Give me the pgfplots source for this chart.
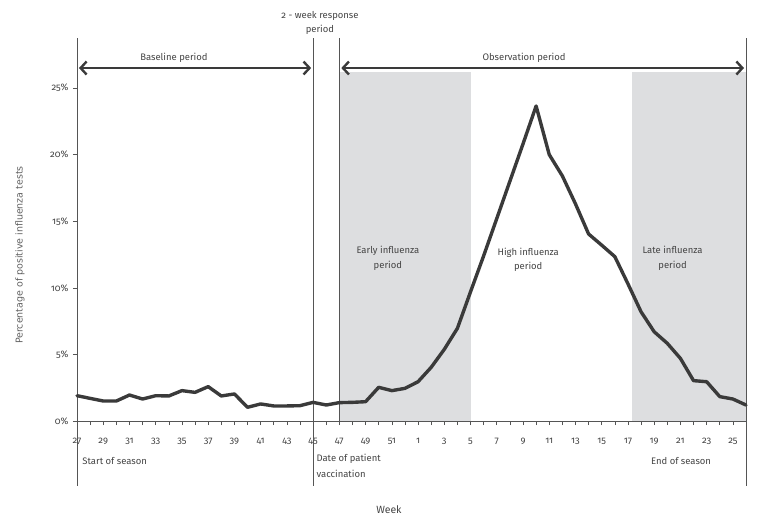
\documentclass[border=0pt]{standalone}
\usepackage{fontspec}
\setmainfont{Fira Sans}[Numbers=OldStyle]
\newfontfamily\ylabfont{DejaVu Sans}
\usepackage{pgfplots}
\pgfplotsset{compat=1.18}
\usetikzlibrary{arrows.meta}
\definecolor{shade}{RGB}{221,222,224}
\definecolor{txt}{RGB}{68,68,68}
\definecolor{vline}{RGB}{85,85,85}
\definecolor{dline}{RGB}{58,58,58}
\pgfplotstableread{
idx val
0 1.90
1 1.70
2 1.50
3 1.50
4 1.95
5 1.65
6 1.90
7 1.88
8 2.28
9 2.15
10 2.58
11 1.88
12 2.03
13 1.03
14 1.28
15 1.13
16 1.13
17 1.15
18 1.40
19 1.20
20 1.38
21 1.40
22 1.45
23 2.53
24 2.28
25 2.45
26 2.95
27 4.03
28 5.38
29 6.96
30 9.7
31 12.4
32 15.2
33 18.0
34 20.8
35 23.65
36 20.0
37 18.4
38 16.3
39 14.04
40 13.2
41 12.34
42 10.3
43 8.2
44 6.7
45 5.83
46 4.7
47 3.03
48 2.95
49 1.83
50 1.65
51 1.2
}\flu
\begin{document}
\begin{tikzpicture}
\path[use as bounding box] (-77bp,-104bp) rectangle (684bp,421bp);
\begin{axis}[
  scale only axis, width=669bp, height=333bp,
  xmin=0, xmax=51, ymin=0, ymax=25, clip=false,
  axis x line*=bottom, axis y line*=left,
  axis line style={vline, line width=0.8pt, -},
  xtick={0,2,...,50},
  xticklabels={27,29,31,33,35,37,39,41,43,45,47,49,51,1,3,5,7,9,11,13,15,17,19,21,23,25},
  minor xtick={1,3,...,51},
  ytick={0,5,...,25},
  yticklabels={0\%,5\%,10\%,15\%,20\%,25\%},
  tick align=outside,
  major tick length=4bp, minor tick length=4bp,
  tick style={vline, line width=0.6pt},
  x tick label style={font=\fontsize{9.5}{11}\selectfont, text=txt, yshift=-10bp},
  y tick label style={font=\fontsize{9.5}{11}\selectfont, text=txt, xshift=-1bp},
]
% shaded periods
\addplot[draw=none, fill=shade] coordinates {(20,0) (30,0) (30,26.2) (20,26.2)} -- cycle;
\addplot[draw=none, fill=shade] coordinates {(42.3,0) (51,0) (51,26.2) (42.3,26.2)} -- cycle;
% vertical reference lines
\draw[vline, line width=0.8pt] (axis cs:0,28.75) -- (axis cs:0,-4.85);
\draw[vline, line width=0.8pt] (axis cs:18,28.75) -- (axis cs:18,-4.85);
\draw[vline, line width=0.8pt] (axis cs:20,28.75) -- (axis cs:20,0);
\draw[vline, line width=0.8pt] (axis cs:51,28.75) -- (axis cs:51,-4.85);
% arrows
\draw[dline, line width=2.4pt, {Straight Barb[length=6bp,width=13bp]}-{Straight Barb[length=6bp,width=13bp]}] (axis cs:0.15,26.5) -- (axis cs:17.85,26.5);
\draw[dline, line width=2.4pt, {Straight Barb[length=6bp,width=13bp]}-{Straight Barb[length=6bp,width=13bp]}] (axis cs:20.15,26.5) -- (axis cs:50.85,26.5);
% data
\addplot[dline, line width=3.4pt, line join=round, line cap=round] table[x=idx, y=val] {\flu};
% texts
\begin{scope}[every node/.style={text=txt, font=\fontsize{9.5}{11}\selectfont}]
\node at (axis cs:7.39,27.25) {Baseline period};
\node at (axis cs:34.08,27.25) {Observation period};
\node[align=center, font=\fontsize{9.5}{14}\selectfont] at (axis cs:18.52,29.85) {2 - week response\\period};
\node[align=center, font=\fontsize{9.5}{15}\selectfont] at (axis cs:23.7,12.2) {Early influenza\\period};
\node[align=center, font=\fontsize{9.5}{15}\selectfont] at (axis cs:34.4,12.1) {High influenza\\period};
\node[align=center, font=\fontsize{9.5}{15}\selectfont] at (axis cs:45.4,12.2) {Late influenza\\period};
\node[anchor=west] at (axis cs:0.15,-3.0) {Start of season};
\node[anchor=north west, align=left, inner sep=0pt, font=\fontsize{9.5}{16}\selectfont] at (axis cs:18.25,-2.45) {Date of patient\\vaccination};
\node[anchor=east] at (axis cs:48.6,-3.0) {End of season};
\node[font=\fontsize{10.5}{12}\selectfont] at (axis cs:23.78,-6.68) {Week};
\node[rotate=90, font=\ylabfont\fontsize{9.5}{11}\selectfont, text=txt!85] at (axis cs:-4.35,12.46) {Percentage of positive influenza tests};
\end{scope}
\end{axis}
\end{tikzpicture}
\end{document}
